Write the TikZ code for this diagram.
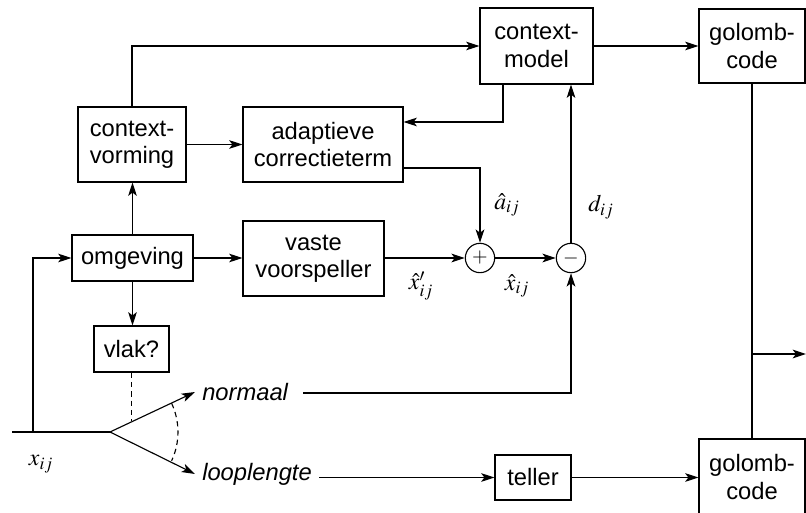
\documentclass[tikz,border=0pt]{standalone}
\usepackage{mathptmx}
\usepackage[no-math]{fontspec}
\setmainfont{Liberation Sans}
\usetikzlibrary{arrows.meta,calc}
\begin{document}
\begin{tikzpicture}[x=0.75pt,y=-0.75pt,
  box/.style={draw, line width=0.85pt, inner sep=0pt, align=center, font=\fontsize{17.8}{20.5}\selectfont},
  sz/.style 2 args={minimum width={#1*0.75pt}, minimum height={#2*0.75pt}},
  sum/.style={draw, circle, line width=0.85pt, minimum size=22pt, inner sep=0pt, font=\fontsize{15}{15}\selectfont},
  conn/.style={line width=0.85pt},
  arr/.style={conn, -{Stealth[length=10pt,width=6.5pt,inset=2.5pt]}},
  lab/.style={inner sep=1pt, font=\fontsize{17.8}{20}\selectfont},
  itl/.style={inner sep=0pt, font=\fontsize{17.8}{20}\selectfont\itshape}]
\useasboundingbox (0,0) rectangle (806,513);

% blocks
\node[box,sz={113}{76}] (cm) at (536.5,46) {context-\\model};
\node[box,sz={106}{74}] (gt) at (752,46) {golomb-\\code};
\node[box,sz={106}{76}] (gb) at (752,477) {golomb-\\code};
\node[box,sz={108}{75}] (cv) at (132,144.5) {context-\\vorming};
\node[box,sz={160}{75}] (ac) at (323,144.5) {adaptieve\\correctieterm};
\node[box,sz={141}{75}] (vv) at (313.5,258.5) {vaste\\voorspeller};
\node[box,sz={121}{46}] (om) at (132.5,258) {omgeving};
\node[box,sz={75}{46}] (vl) at (131.5,349) {vlak?};
\node[box,sz={76}{45}] (te) at (533,477.5) {teller};
\node[sum] (pl) at (480,258) {$+$};
\node[sum] (mi) at (571,258) {$-$};

% junctions
\coordinate (in) at (12,432);
\coordinate (fk) at (110,432);
\coordinate (j1) at (33,432);
\coordinate (nu) at (195,392);
\coordinate (lu) at (195,474);
\coordinate (out) at (806,354);
\node[itl, anchor=west] (nt) at (202,392) {normaal};
\node[itl, anchor=west] (lt) at (202,474) {looplengte};
\coordinate (ns) at ($(nt.east)+(15,1)$);
\coordinate (ls) at ($(lt.east)+(7,0)$);

% labels
\node[lab] (la) at (507,205) {$\hat{a}_{ij}$};
\node[lab] (ld) at (601,207) {$d_{ij}$};
\node[lab] (lxp) at (421,286) {$\hat{x}'_{ij}$};
\node[lab] (lx) at (517,286) {$\hat{x}_{ij}$};
\node[lab] (lin) at (41,464) {$x_{ij}$};

% connectors
\draw[conn] (in) -- (fk);
\draw[arr] (j1) |- (om.west);
\draw[arr] (fk) -- (nu);
\draw[arr] (fk) -- (lu);
\draw[arr] (om.north) -- (om.north |- cv.south);
\draw[arr] (om.south) -- (om.south |- vl.north);
\draw[arr] (om.east) -- (om.east -| vv.west);
\draw[arr] (cv) -- (ac);
\draw[arr] (cv.north) |- (cm.west);
\draw[arr] ($(cm.south)+(-33.5,0)$) |- ($(ac.east)+(0,-22.5)$);
\draw[arr] ($(ac.east)+(0,23.5)$) -| (pl.north);
\draw[arr] (vv.east |- pl.west) -- (pl.west);
\draw[arr] (pl) -- (mi);
\draw[arr] (mi.north) -- (mi.north |- cm.south);
\draw[arr] (ns) -| (mi.south);
\draw[arr] (ls |- te.west) -- (te.west);
\draw[arr] (te.east) -- (te.east -| gb.west);
\draw[arr] (cm.east) -- (gt.west);
\draw[conn] (gt.south) -- (gb.north);
\draw[arr] (gt.south |- out) -- (out);
\draw[conn, dash pattern=on 4pt off 3pt] (vl.south) -- ($(vl.south)+(0,48)$);
\draw[conn, dash pattern=on 4pt off 3pt] ($(fk)+(61.6,-28.7)$) arc[start angle=-25, end angle=25, radius=68];
\end{tikzpicture}
\end{document}
